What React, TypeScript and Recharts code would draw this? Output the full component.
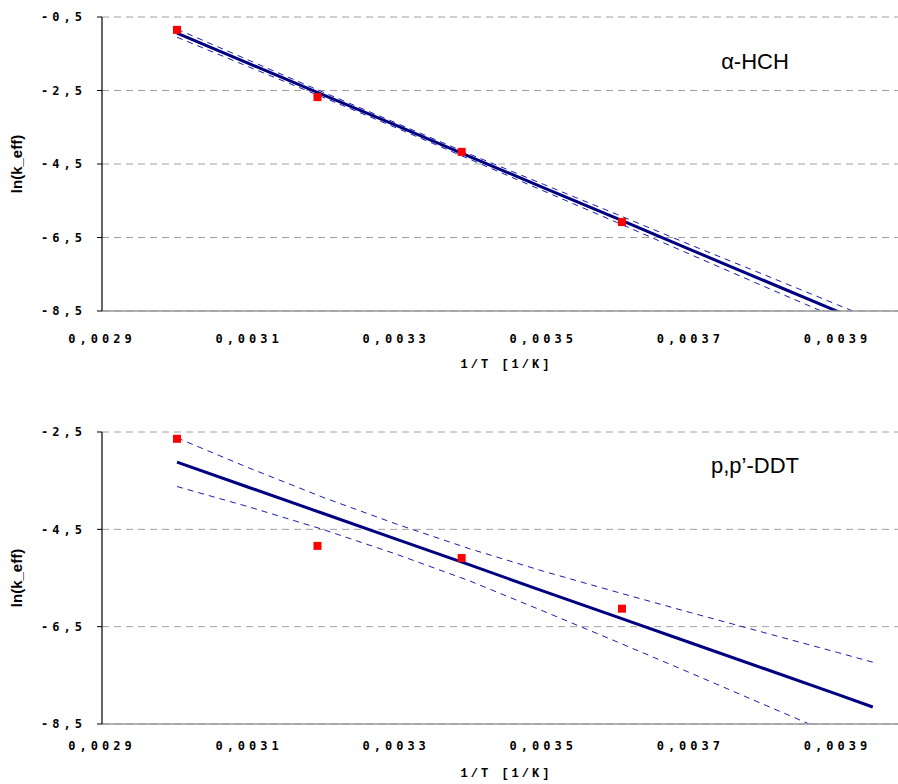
import { ComposedChart, Line, Scatter, XAxis, YAxis, CartesianGrid, Label } from 'recharts';

// 1/T values of the four measurements
const invT = [0.003002, 0.003193, 0.003389, 0.003607];
const hchMeasured = [-0.85, -2.68, -4.17, -6.08];
const ddtMeasured = [-2.64, -4.84, -5.09, -6.13];

// regression line + confidence band
const fitX = [0.003002, 0.0031, 0.0032, 0.0033, 0.0034, 0.0035, 0.0036, 0.0037, 0.0038, 0.0039, 0.003948];
const hchFit = [-0.94, -1.77, -2.61, -3.45, -4.3, -5.14, -5.98, -6.83, -7.67, -8.51, -8.92];
const hchUpper = [-0.83, -1.68, -2.54, -3.385, -4.23, -5.05, -5.87, -6.7, -7.51, -8.33, -8.72];
const hchLower = [-1.05, -1.86, -2.68, -3.515, -4.37, -5.23, -6.09, -6.96, -7.83, -8.69, -9.12];
const ddtFit = [-3.12, -3.64, -4.17, -4.7, -5.23, -5.77, -6.3, -6.83, -7.36, -7.89, -8.15];
const ddtUpper = [-2.62, -3.24, -3.84, -4.39, -4.9, -5.36, -5.79, -6.21, -6.62, -7.03, -7.23];
const ddtLower = [-3.62, -4.04, -4.5, -5.01, -5.56, -6.18, -6.81, -7.45, -8.1, -8.75, -9.07];

const xTicks = [0.0029, 0.0031, 0.0033, 0.0035, 0.0037, 0.0039];
const hchYTicks = [-8.5, -6.5, -4.5, -2.5, -0.5];
const ddtYTicks = [-8.5, -6.5, -4.5, -2.5];

const PLOT_TOP = 17;
const monoTick = { fontFamily: '"DejaVu Sans Mono", monospace', fontWeight: 'bold', fontSize: 12, letterSpacing: 4, fill: '#000' };

interface PanelProps {
    top: number;
    plotHeight: number;
    yTicks: number[];
    measured: number[];
    fit: number[];
    upper: number[];
    lower: number[];
    name: string;
    nameY: number;
    tickMargin: number;
    titleOffset: number;
}

function Panel({ top, plotHeight, yTicks, measured, fit, upper, lower, name, nameY, tickMargin, titleOffset }: PanelProps) {
    const rows = fitX.map((x, i) => ({ x, fit: fit[i], upper: upper[i], lower: lower[i] }));
    const points = invT.map((x, i) => ({ x, y: measured[i] }));
    const yDomain = [yTicks[0], yTicks[yTicks.length - 1]];

    return (
        <div style={{ position: 'absolute', left: 0, top: top }}>
            <ComposedChart width={915} height={PLOT_TOP + plotHeight + 60} data={rows}
                margin={{ top: PLOT_TOP, right: 4, left: 0, bottom: 0 }}>
                <CartesianGrid vertical={false} stroke="#a0a0a0" strokeDasharray="7 5" />
                <XAxis dataKey="x" type="number" domain={[0.0029, 0.004]} ticks={xTicks} allowDataOverflow
                    height={60} tickLine={false} tickSize={0} tickMargin={tickMargin}
                    axisLine={{ stroke: '#999', strokeWidth: 1.5 }}
                    tick={monoTick} tickFormatter={(v: number) => v.toFixed(4).replace('.', ',')}>
                    <Label value="1/T [1/K]" position="insideBottom" offset={titleOffset}
                        style={{ ...monoTick, fontFamily: '"Liberation Mono", monospace', letterSpacing: 3 }} />
                </XAxis>
                <XAxis xAxisId="top" orientation="top" dataKey="x" type="number" domain={[0.0029, 0.004]}
                    ticks={xTicks} height={0} tickLine={false} axisLine={{ stroke: '#000', strokeWidth: 1.2 }}
                    tick={(p: any) => (
                        <line x1={p.x} x2={p.x} y1={PLOT_TOP} y2={PLOT_TOP + 5} stroke="#000" />
                    )} />
                <YAxis type="number" domain={yDomain} ticks={yTicks} allowDataOverflow width={102}
                    tickSize={5} tickMargin={11} tickLine={{ stroke: '#000' }}
                    axisLine={{ stroke: '#000', strokeWidth: 1.2 }}
                    tick={monoTick} tickFormatter={(v: number) => v.toFixed(1).replace('.', ',')}>
                    <Label content={(props: any) => {
                        const vb = props.viewBox;
                        const cx = 18;
                        const cy = vb.y + vb.height / 2;
                        return (
                            <text x={cx} y={cy} transform={`rotate(-90 ${cx} ${cy})`} textAnchor="middle"
                                dominantBaseline="middle" fontFamily='"Liberation Sans", Arial, sans-serif'
                                fontWeight="bold" fontSize={15} fill="#000">ln(k_eff)</text>
                        );
                    }} />
                </YAxis>
                <Line dataKey="upper" stroke="#1c1ca8" strokeWidth={1} strokeDasharray="6 5" dot={false}
                    isAnimationActive={false} />
                <Line dataKey="lower" stroke="#1c1ca8" strokeWidth={1} strokeDasharray="6 5" dot={false}
                    isAnimationActive={false} />
                <Line dataKey="fit" stroke="#000080" strokeWidth={3} dot={false} isAnimationActive={false} />
                <Scatter data={points} dataKey="y" isAnimationActive={false}
                    shape={(p: any) => <rect x={p.cx - 4} y={p.cy - 4} width={8} height={8} fill="#ff0000" />} />
            </ComposedChart>
            <div style={{
                position: 'absolute', left: 755, top: nameY, transform: 'translate(-50%, -50%)',
                fontFamily: '"Liberation Sans", Arial, sans-serif', fontSize: 22, color: '#000', whiteSpace: 'nowrap'
            }}>{name}</div>
        </div>
    );
}

export default function App() {
    return (
        <div style={{ position: 'absolute', left: 0, top: 0, width: 898, height: 784, overflow: 'hidden', background: '#fff' }}>
            <Panel top={0} plotHeight={294} yTicks={hchYTicks} measured={hchMeasured} fit={hchFit}
                upper={hchUpper} lower={hchLower} name="α-HCH" nameY={62} tickMargin={23} titleOffset={3} />
            <Panel top={415} plotHeight={292} yTicks={ddtYTicks} measured={ddtMeasured} fit={ddtFit}
                upper={ddtUpper} lower={ddtLower} name="p,p’-DDT" nameY={51} tickMargin={17} titleOffset={7} />
        </div>
    );
}
